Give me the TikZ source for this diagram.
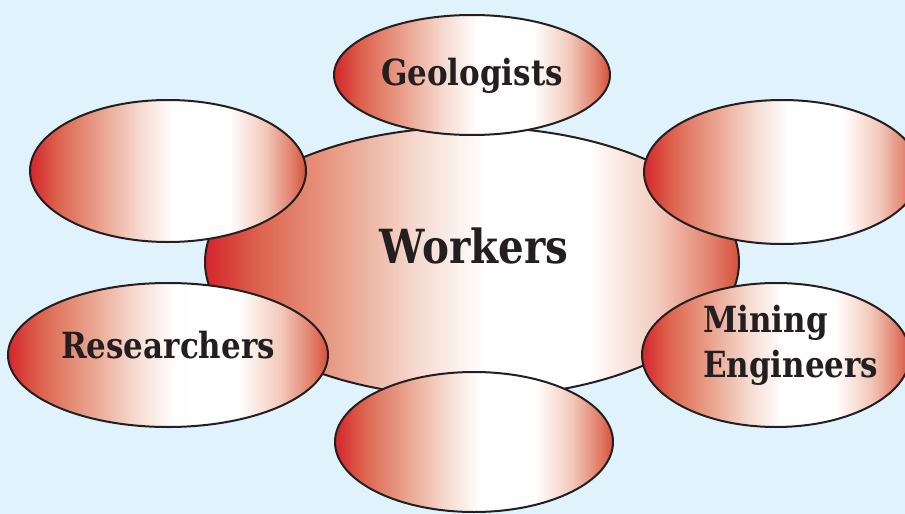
\documentclass[tikz,border=0pt]{standalone}
\usepackage{fontspec}
\newfontfamily\labelfont[FakeStretch=0.86]{DejaVu Serif}
\definecolor{bgblue}{HTML}{E0F2FB}
\definecolor{shA}{HTML}{D4252B}
\definecolor{shB}{HTML}{DC634E}
\definecolor{shC}{HTML}{E9A08B}
\definecolor{shD}{HTML}{F6DBD1}
\definecolor{shE}{HTML}{FFFFFF}
\definecolor{shF}{HTML}{F3CABC}
\definecolor{shG}{HTML}{E17F6A}
\definecolor{shH}{HTML}{D5503B}
\definecolor{txtdark}{HTML}{231F20}
\definecolor{edgedark}{HTML}{231F20}
\pgfdeclarehorizontalshading{redfade}{100bp}{%
  color(0bp)=(shA);
  color(25bp)=(shA);
  color(30bp)=(shB);
  color(37.5bp)=(shC);
  color(45bp)=(shD);
  color(51bp)=(shE!97!shD);
  color(55bp)=(shE);
  color(61bp)=(shE);
  color(67.5bp)=(shF);
  color(72.5bp)=(shG);
  color(75bp)=(shH);
  color(100bp)=(shH)}
\begin{document}
\begin{tikzpicture}[x=1pt,y=-1pt,
  bubble/.style={draw=edgedark,line width=2pt,shading=redfade},
  lbl/.style={text=txtdark,inner sep=0pt},
  bigfont/.style={font=\labelfont\bfseries\fontsize{47}{56}\selectfont},
  midfont/.style={font=\labelfont\bfseries\fontsize{36}{43}\selectfont}]
\useasboundingbox (0,0) rectangle (905,514);
\fill[bgblue] (0,0) rectangle (905,514);
\begin{scope}
\clip (0,0) rectangle (905,514);
% central
\path[bubble] (472,262) ellipse [x radius=267, y radius=135];
% satellites
\path[bubble] (472,75) ellipse [x radius=138, y radius=60];
\path[bubble] (168,171) ellipse [x radius=138, y radius=71];
\path[bubble] (782,172) ellipse [x radius=138, y radius=72];
\path[bubble] (168,355) ellipse [x radius=160, y radius=72];
\path[bubble] (776,355) ellipse [x radius=134, y radius=72];
\path[bubble] (474,442) ellipse [x radius=139, y radius=70];
\end{scope}
% labels
\node[lbl,bigfont,anchor=base] (workers) at (474,263) {Workers};
\node[lbl,midfont,anchor=base] (geo) at (472,85) {Geologists};
\node[lbl,midfont,anchor=base] (res) at (168,358) {Researchers};
\node[lbl,midfont,anchor=base west] (mine1) at (703,332) {Mining};
\node[lbl,midfont,anchor=base west] (mine2) at (703,377) {Engineers};
\end{tikzpicture}
\end{document}
